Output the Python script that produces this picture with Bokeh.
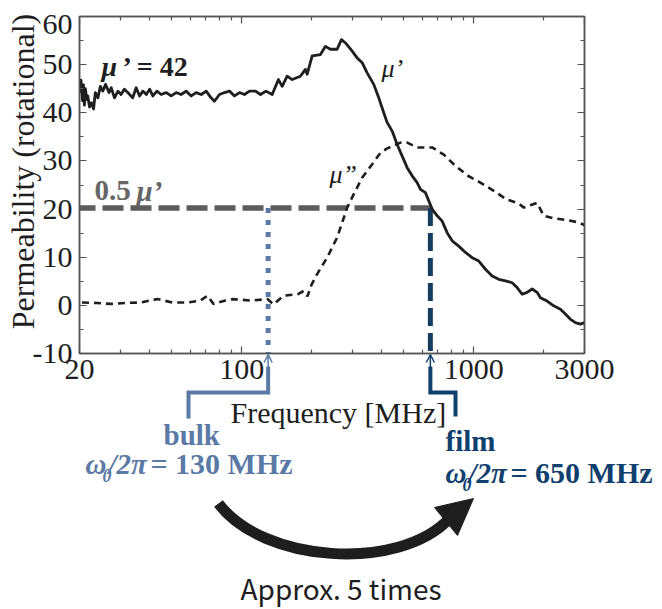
import math
from bokeh.plotting import figure
from bokeh.layouts import column
from bokeh.models import (Range1d, FixedTicker, LogAxis, LinearAxis, Label, Arrow,
                          OpenHead, NumeralTickFormatter)
from bokeh.embed import file_html
from bokeh.resources import INLINE

# ---------------- data ----------------
freq_mu1 = [20.0, 20.3, 20.6, 20.8, 21.0, 21.2, 21.5, 21.7, 22.1, 22.5, 23.0, 23.4, 24.0, 24.6,
            25.2, 25.9, 26.8, 27.4, 28.3, 29.3, 30.2, 31.2, 32.3, 33.9, 35.1, 36.3, 37.5, 38.8,
            40.1, 41.4, 43.1, 45.0, 47.3, 49.7, 52.2, 54.8, 57.6, 60.6, 63.6, 66.9, 70.3, 73.8,
            76.3, 80.2, 84.3, 88.6, 93.1, 97.8, 102.8, 108.0, 114.7, 120.5, 127.2, 135.3, 144.0,
            149.4, 157.0, 165.0, 179.1, 188.2, 191.4, 201.2, 218.4, 229.5, 241.2, 257.8, 269.0,
            280.0, 299.2, 314.4, 330.4, 347.2, 370.6, 389.6, 409.4, 423.4, 445.0, 467.6, 491.4,
            516.4, 542.6, 570.2, 589.2, 619.0, 639.8, 661.6, 695.4, 730.8, 767.8, 807.0, 861.4,
            920.8, 984.0, 1051, 1123, 1200, 1281, 1369, 1463, 1537, 1616, 1698, 1785, 1875, 1937,
            2070, 2210, 2362, 2482, 2610, 2742, 2882, 2998]
mu1 = [44.2, 46.8, 42.5, 45.8, 41.6, 45.0, 42.8, 43.5, 41.2, 42.1, 40.8, 44.2, 43.1, 45.5,
       44.5, 45.9, 44.2, 45.2, 43.1, 44.5, 43.8, 44.9, 44.2, 43.1, 45.2, 43.5, 44.5, 43.8,
       44.9, 43.5, 44.5, 43.8, 44.2, 43.5, 44.2, 43.8, 44.5, 43.5, 44.2, 43.8, 44.5, 43.1,
       42.4, 43.8, 44.2, 44.5, 43.5, 44.2, 43.8, 44.5, 44.5, 43.8, 44.5, 43.8, 46.9,
       45.5, 47.6, 46.9, 47.6, 49.0, 48.0, 51.8, 52.1, 53.8, 53.2, 53.2, 55.2,
       54.5, 52.8, 51.4, 50.4, 48.3, 45.9, 43.1, 40.0, 38.0, 36.2, 33.4, 31.0,
       28.6, 26.9, 25.5, 24.1, 23.4, 21.7, 20.0, 18.6, 17.5, 15.1, 13.4, 12.3,
       11.0, 9.9, 9.2, 7.5, 6.1, 5.4, 5.1, 4.7, 3.7, 2.3, 2.7, 3.4, 2.7, 1.6,
       0.9, -0.1, -0.8, -1.8, -2.9, -3.6, -3.9, -3.6]

freq_mu2 = [20.5, 23.7, 27.2, 31.6, 36.6, 43.4, 50.3, 58.4, 66.4, 71.2, 75.6, 85.1, 92.2, 109.1,
            129.1, 137.1, 151.3, 173.9, 185.0, 192.0, 200.0, 211.4, 233.4, 257.8, 284.8, 304.0,
            330.4, 364.8, 396.2, 423.4, 483.0, 516.4, 570.2, 661.6, 742.6, 820.0, 936.4, 1068,
            1219, 1383, 1558, 1642, 1754, 1875, 2002, 2210, 2524, 2788, 2998]
mu2 = [0.6, 0.5, 0.3, 0.5, 0.6, 1.3, 0.6, 0.6, 1.0, 2.0, 0.3, 1.0, 1.3, 1.0,
       1.3, 0.2, 2.0, 2.3, 3.0, 1.9, 4.3, 6.5, 9.9, 14.1, 20.3, 23.1,
       26.5, 29.3, 31.7, 32.6, 33.8, 33.8, 32.8, 32.8, 31.3, 29.3, 27.0, 25.5,
       23.8, 22.0, 21.2, 20.3, 20.8, 21.3, 18.6, 18.1, 17.7, 17.3, 16.7]

x_ticks = [20, 100, 1000, 3000]
x_tick_labels = ["20", "100", "1000", "3000"]
x_minor = [30, 40, 50, 60, 70, 80, 90, 200, 300, 400, 500, 600, 700, 800, 900, 2000]
y_ticks = [-10, 0, 10, 20, 30, 40, 50, 60]
y_tick_labels = ["-10", "0", "10", "20", "30", "40", "50", "60"]
y_minor = [-5, 5, 15, 25, 35, 45, 55]

bulk_freq = 130
film_freq = 650
half_mu = 20.2

# ---------------- layout ----------------
W, H = 662, 609
FL, FR, FT, FB = 79, 584, 16, 353          # plot frame edges in page pixels
XMIN, XMAX, YMIN, YMAX = 20, 3000, -10, 60

def x2px(f):
    return FL + (FR - FL) * math.log10(f / XMIN) / math.log10(XMAX / XMIN)

SERIF = "Liberation Serif"
AX = "#555555"
TXT = "#1e1e1e"
GRAY = "#5c5c5c"
BULK = "#5b79a5"
FILM = "#10406e"

p = figure(width=W, height=H, x_axis_type="log",
           x_range=Range1d(XMIN, XMAX), y_range=Range1d(YMIN, YMAX),
           output_backend="svg", toolbar_location=None,
           min_border_left=FL, min_border_right=W - FR, min_border_top=FT,
           min_border_bottom=H - FB)
p.xgrid.visible = False
p.ygrid.visible = False
p.outline_line_color = AX
p.outline_line_width = 1.5
p.background_fill_color = "white"
p.border_fill_color = "white"

def style_axis(ax):
    ax.axis_line_color = AX
    ax.axis_line_width = 1.5
    ax.major_tick_in = 7
    ax.major_tick_out = 0
    ax.minor_tick_in = 4
    ax.minor_tick_out = 0
    ax.major_tick_line_color = AX
    ax.minor_tick_line_color = AX
    ax.major_tick_line_width = 1.2
    ax.minor_tick_line_width = 1.2
    ax.major_label_text_font = SERIF
    ax.major_label_text_font_size = "30px"
    ax.major_label_text_color = TXT

xa = p.xaxis[0]
xa.ticker = FixedTicker(ticks=x_ticks, minor_ticks=x_minor)
xa.formatter = NumeralTickFormatter(format="0")
xa.major_label_overrides = {v: s for v, s in zip(x_ticks, x_tick_labels)}
style_axis(xa)
xa.major_label_standoff = 6

ya = p.yaxis[0]
ya.ticker = FixedTicker(ticks=y_ticks, minor_ticks=y_minor)
ya.major_label_overrides = {v: (s if v != 60 else "") for v, s in zip(y_ticks, y_tick_labels)}
style_axis(ya)
ya.major_label_standoff = 7

top = LogAxis(ticker=FixedTicker(ticks=x_ticks, minor_ticks=x_minor))
style_axis(top)
top.major_label_overrides = {v: "" for v in x_ticks}
top.major_label_standoff = 0
p.add_layout(top, "above")
right = LinearAxis(ticker=FixedTicker(ticks=y_ticks, minor_ticks=y_minor))
style_axis(right)
right.major_label_overrides = {v: "" for v in y_ticks}
right.major_label_standoff = 0
p.add_layout(right, "right")

# reference lines
p.line([XMIN, film_freq], [half_mu, half_mu], line_color=GRAY, line_width=5.5,
       line_dash="21 7", line_dash_offset=5)
p.segment(x0=[bulk_freq], y0=[half_mu], x1=[bulk_freq], y1=[YMIN],
          line_color=BULK, line_width=5, line_dash="5 7")
p.segment(x0=[film_freq], y0=[half_mu], x1=[film_freq], y1=[YMIN],
          line_color="#173c62", line_width=5, line_dash="18 7")

# curves
p.line(freq_mu2, mu2, line_color=TXT, line_width=2.6, line_dash="7 5")
p.line(freq_mu1, mu1, line_color=TXT, line_width=2.8, line_join="round")

# ---------------- transparent overlay for annotations (page pixel coordinates) ----------------
o = figure(width=W, height=H, x_range=Range1d(0, W), y_range=Range1d(H, 0),
           output_backend="svg", toolbar_location=None,
           x_axis_location=None, y_axis_location=None,
           min_border=0, min_border_left=0, min_border_right=0, min_border_top=0, min_border_bottom=0)
o.xgrid.visible = False
o.ygrid.visible = False
o.outline_line_color = None
o.background_fill_alpha = 0
o.border_fill_alpha = 0
o.margin = (-H, 0, 0, 0)
p.margin = (0, 0, 0, 0)
for fig in (p, o):
    if "frame_align" in fig.properties():
        fig.frame_align = False

BASE_SHIFT = 0.33   # Bokeh draws "alphabetic" labels lower than the canvas baseline

def lab(text, px, py, size, color=TXT, style="normal", font=SERIF, align="left", angle=0.0):
    if angle == 0.0:
        py = py - BASE_SHIFT * size
    else:
        px = px - BASE_SHIFT * size
    o.add_layout(Label(x=px, y=py, text=text, text_font=font,
                       text_font_size=f"{size}px", text_font_style=style, text_color=color,
                       text_align=align, text_baseline="alphabetic", angle=angle))

lab("60", 72, 34, 30, align="right")
lab("Permeability (rotational)", 33, 171, 32, angle=math.pi / 2, align="center")
lab("Frequency [MHz]", 230, 422, 30)

lab("\u03bc", 101, 75, 28, style="bold italic")
lab("\u2019 = 42", 122, 75, 28, style="bold")
lab("\u03bc\u2019", 381, 77, 26, style="italic")
lab("\u03bc\u201d", 329, 183, 26, style="italic")
lab("0.5", 94, 200, 29, color="#666666", style="bold")
lab("\u03bc\u2019", 136, 200, 29, color="#666666", style="bold italic")

lab("bulk", 163, 444, 29, color=BULK, style="bold")
lab("\u03c9", 85, 473, 29, color=BULK, style="bold italic")
lab("0", 102, 481, 18, color=BULK, style="bold italic")
lab("/2\u03c0", 108, 473, 29, color=BULK, style="bold italic")
lab("= 130 MHz", 150, 473, 30, color=BULK, style="bold")

lab("film", 445, 450, 29, color=FILM, style="bold")
lab("\u03c9", 445, 482, 29, color=FILM, style="bold italic")
lab("0", 462, 490, 18, color=FILM, style="bold italic")
lab("/2\u03c0", 468, 482, 29, color=FILM, style="bold italic")
lab("= 650 MHz", 510, 482, 30, color=FILM, style="bold")

lab("Approx. 5 times", 240, 597, 28, color=TXT, font="Noto Sans CJK JP")

# connectors below the axis
for f, xo, yo, col in [(bulk_freq, 188, 418, BULK), (film_freq, 455, 416, FILM)]:
    xf = x2px(f)
    o.line([xf, xf, xo, xo], [366, 392, 392, yo], line_color=col, line_width=4,
           line_join="miter")
    o.add_layout(Arrow(end=OpenHead(size=8, line_color=col, line_width=1.5),
                       x_start=xf, y_start=369, x_end=xf, y_end=354,
                       line_color=col, line_width=1.5))

# curved arrow
o.bezier(x0=[218], y0=[503], x1=[449], y1=[518], cx0=[262], cy0=[562], cx1=[398], cy1=[572],
         line_color=TXT, line_width=11)
o.patch([473, 434, 457], [498, 507, 535], fill_color=TXT, line_color=TXT, line_width=1)

layout = column(p, o, spacing=0)
open("out.html", "w").write(file_html(layout, INLINE))
